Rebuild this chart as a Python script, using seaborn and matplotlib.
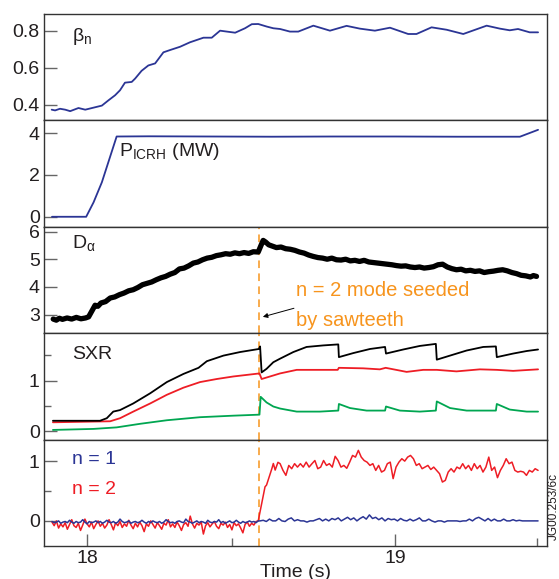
import numpy as np
import seaborn as sns
from matplotlib import pyplot as plt
from matplotlib.ticker import FixedLocator

sns.set_theme(style='white')
plt.rcParams['font.family'] = ['Liberation Sans', 'DejaVu Sans']
plt.rcParams['mathtext.fontset'] = 'custom'
plt.rcParams['mathtext.rm'] = 'Liberation Sans'

# ---- data ----
beta_t = [17.885, 17.896, 17.912, 17.929, 17.945, 17.972, 17.994, 18.021, 18.048, 18.069,
          18.091, 18.107, 18.123, 18.145, 18.156, 18.177, 18.199, 18.221, 18.248, 18.269,
          18.302, 18.334, 18.378, 18.405, 18.432, 18.454, 18.481, 18.513, 18.535, 18.556,
          18.584, 18.605, 18.627, 18.659, 18.686, 18.735, 18.789, 18.843, 18.886, 18.935,
          18.984, 19.043, 19.070, 19.119, 19.168, 19.222, 19.298, 19.341, 19.373, 19.400,
          19.438, 19.465]
beta_n = [0.373, 0.369, 0.378, 0.373, 0.365, 0.382, 0.373, 0.384, 0.395, 0.423,
          0.451, 0.478, 0.519, 0.523, 0.541, 0.583, 0.612, 0.623, 0.683, 0.695,
          0.713, 0.737, 0.762, 0.762, 0.800, 0.795, 0.789, 0.813, 0.835, 0.836,
          0.822, 0.813, 0.809, 0.795, 0.795, 0.827, 0.800, 0.826, 0.811, 0.800,
          0.816, 0.782, 0.782, 0.818, 0.805, 0.782, 0.827, 0.811, 0.802, 0.809,
          0.791, 0.791]

icrh_t = [17.886, 17.997, 18.021, 18.048, 18.096, 18.2, 18.4, 18.6, 18.8, 19.0, 19.2, 19.406, 19.465]
icrh_p = [0.0, 0.0, 0.69, 1.65, 3.84, 3.85, 3.84, 3.83, 3.84, 3.84, 3.83, 3.83, 4.16]

dalpha_t = [17.890, 17.900, 17.910, 17.920, 17.935, 17.950, 17.965, 17.980, 17.995, 18.005,
            18.015, 18.026, 18.035, 18.045, 18.060, 18.075, 18.090, 18.105, 18.120, 18.135,
            18.150, 18.165, 18.180, 18.195, 18.210, 18.225, 18.240, 18.255, 18.270, 18.285,
            18.300, 18.315, 18.330, 18.345, 18.360, 18.375, 18.390, 18.405, 18.420, 18.435,
            18.450, 18.465, 18.480, 18.495, 18.510, 18.525, 18.540, 18.556, 18.565, 18.572,
            18.580, 18.590, 18.600, 18.615, 18.630, 18.645, 18.660, 18.675, 18.690, 18.705,
            18.720, 18.735, 18.750, 18.765, 18.780, 18.795, 18.810, 18.825, 18.840, 18.855,
            18.870, 18.885, 18.900, 18.915, 18.930, 18.945, 18.960, 18.975, 18.990, 19.005,
            19.020, 19.035, 19.050, 19.065, 19.080, 19.095, 19.110, 19.125, 19.140, 19.155,
            19.170, 19.185, 19.200, 19.215, 19.230, 19.245, 19.260, 19.275, 19.290, 19.305,
            19.320, 19.335, 19.350, 19.365, 19.380, 19.395, 19.410, 19.425, 19.440, 19.450,
            19.460]
dalpha = [2.84, 2.80, 2.87, 2.83, 2.88, 2.84, 2.90, 2.85, 2.88, 2.92,
          3.12, 3.34, 3.30, 3.42, 3.47, 3.60, 3.64, 3.72, 3.78, 3.86,
          3.90, 3.98, 4.08, 4.13, 4.18, 4.26, 4.33, 4.38, 4.46, 4.52,
          4.65, 4.68, 4.76, 4.86, 4.90, 4.98, 5.04, 5.07, 5.13, 5.16,
          5.20, 5.18, 5.23, 5.20, 5.24, 5.21, 5.27, 5.26, 5.50, 5.68,
          5.62, 5.52, 5.48, 5.42, 5.44, 5.38, 5.36, 5.32, 5.26, 5.22,
          5.15, 5.10, 5.06, 5.04, 5.00, 5.04, 4.98, 4.97, 5.00, 4.94,
          4.96, 4.92, 4.96, 4.90, 4.88, 4.86, 4.84, 4.82, 4.80, 4.77,
          4.75, 4.76, 4.72, 4.70, 4.72, 4.68, 4.70, 4.73, 4.80, 4.82,
          4.72, 4.66, 4.62, 4.64, 4.58, 4.60, 4.56, 4.58, 4.52, 4.55,
          4.57, 4.60, 4.62, 4.58, 4.52, 4.48, 4.42, 4.40, 4.36, 4.41,
          4.38]

sxr_black_t = [17.889, 18.042, 18.064, 18.085, 18.107, 18.150, 18.205, 18.259, 18.313, 18.362,
               18.389, 18.443, 18.497, 18.558, 18.562, 18.567, 18.583, 18.605, 18.627, 18.670,
               18.713, 18.767, 18.816, 18.818, 18.865, 18.919, 18.968, 18.971, 19.027, 19.081,
               19.133, 19.136, 19.179, 19.233, 19.287, 19.328, 19.331, 19.384, 19.428, 19.465]
sxr_black = [0.21, 0.21, 0.26, 0.39, 0.42, 0.55, 0.75, 0.97, 1.13, 1.25,
             1.38, 1.49, 1.56, 1.62, 1.67, 1.16, 1.23, 1.36, 1.43, 1.56,
             1.66, 1.69, 1.71, 1.46, 1.54, 1.62, 1.66, 1.53, 1.61, 1.68,
             1.72, 1.41, 1.49, 1.59, 1.66, 1.67, 1.46, 1.53, 1.58, 1.61]

sxr_red_t = [17.889, 18.075, 18.107, 18.150, 18.205, 18.259, 18.313, 18.367, 18.421, 18.475,
             18.560, 18.567, 18.627, 18.681, 18.735, 18.814, 18.818, 18.897, 18.951, 18.970,
             19.038, 19.092, 19.136, 19.200, 19.276, 19.331, 19.384, 19.438, 19.465]
sxr_red = [0.18, 0.20, 0.26, 0.39, 0.55, 0.72, 0.86, 0.97, 1.03, 1.08,
           1.14, 1.03, 1.14, 1.21, 1.21, 1.21, 1.25, 1.24, 1.22, 1.25,
           1.17, 1.21, 1.21, 1.18, 1.22, 1.21, 1.19, 1.21, 1.22]

sxr_green_t = [17.889, 18.021, 18.096, 18.172, 18.259, 18.367, 18.475, 18.560, 18.564, 18.583,
               18.605, 18.627, 18.681, 18.756, 18.816, 18.818, 18.854, 18.908, 18.968, 18.971,
               19.016, 19.081, 19.133, 19.136, 19.179, 19.233, 19.328, 19.331, 19.373, 19.428,
               19.465]
sxr_green = [0.03, 0.05, 0.08, 0.15, 0.22, 0.28, 0.31, 0.33, 0.68, 0.57,
             0.49, 0.45, 0.39, 0.39, 0.41, 0.54, 0.46, 0.41, 0.41, 0.49,
             0.41, 0.39, 0.41, 0.59, 0.46, 0.41, 0.41, 0.54, 0.43, 0.39,
             0.39]

n1_before = [-0.01, -0.03, -0.02, 0.00, -0.04, -0.02, -0.01, -0.03, 0.01, -0.02,
             -0.04, -0.01, -0.03, -0.02, 0.02, -0.02, -0.05, -0.01, -0.03, -0.02,
             0.00, -0.03, -0.01, -0.04, -0.02, 0.01, -0.02, -0.03, -0.01, -0.04,
             -0.02, 0.03, -0.01, -0.03, -0.02, 0.00, -0.04, -0.02, -0.01, -0.03,
             -0.02, 0.01, -0.02, -0.04, -0.01, -0.03, 0.00, -0.02, -0.03, -0.01,
             -0.04, -0.02, 0.02, -0.01, -0.03, -0.02, -0.04, -0.01, 0.00, -0.02,
             -0.03, 0.03, -0.01, -0.02, -0.04, -0.02, 0.00, -0.03, -0.01, -0.02,
             -0.04, 0.01, -0.02, -0.03, -0.01, -0.02, 0.02, -0.03, -0.01, -0.04,
             -0.02, 0.00, -0.03, -0.02, 0.01, -0.02, -0.04, -0.01, -0.03, -0.02,
             0.00, -0.02, -0.01, -0.03, 0.00]
n1_after = [0.0, 0.01, -0.01, 0.03, 0.0, 0.0, 0.04, 0.0, -0.01, 0.03,
            0.05, 0.0, 0.02, 0.0, 0.0, -0.02, 0.0, 0.0, 0.02, 0.04,
            0.0, 0.03, 0.0, 0.04, 0.02, 0.05, 0.0, 0.03, 0.06, 0.02,
            0.05, 0.0, 0.04, 0.07, 0.03, 0.10, 0.04, 0.06, 0.02, 0.05,
            0.0, 0.04, 0.02, 0.03, 0.0, 0.04, 0.01, 0.0, 0.03, 0.0,
            0.02, 0.05, 0.0, 0.0, 0.03, 0.0, -0.02, 0.0, 0.0, -0.02,
            0.0, 0.0, 0.0, 0.0, -0.01, 0.0, 0.0, 0.03, 0.0, 0.04,
            0.06, 0.03, 0.0, 0.04, 0.0, 0.03, 0.0, 0.0, 0.03, 0.0,
            0.0, 0.02, 0.0, 0.01, 0.0, 0.0, 0.0, 0.0, 0.0, 0.0]

n2_before = [-0.02, -0.08, 0.00, -0.12, -0.05, -0.10, -0.03, -0.14, -0.06, 0.02,
             -0.08, -0.11, -0.04, -0.16, -0.07, 0.03, -0.05, -0.10, -0.02, -0.13,
             -0.06, 0.00, -0.09, -0.04, -0.12, -0.07, 0.02, -0.06, -0.15, -0.03,
             -0.08, -0.01, -0.11, -0.05, -0.09, 0.01, -0.07, -0.13, -0.04, -0.10,
             -0.02, -0.08, -0.18, -0.05, -0.09, 0.00, -0.06, -0.12, -0.03, -0.08,
             -0.14, -0.04, -0.07, 0.02, -0.10, -0.05, -0.11, -0.02, -0.08, -0.16,
             -0.06, -0.03, -0.09, 0.08, -0.05, -0.12, -0.04, -0.07, -0.02, -0.22,
             -0.08, -0.03, -0.10, -0.05, -0.01, -0.09, -0.13, -0.04, -0.07, -0.02,
             -0.11, -0.06, -0.15, -0.03, -0.08, -0.05, -0.12, -0.20, -0.06, -0.02,
             -0.09, -0.04, -0.07, -0.01, 0.00]
n2_rise_t = [18.578, 18.583, 18.600, 18.605, 18.611, 18.620]
n2_rise = [0.57, 0.60, 0.87, 0.96, 0.85, 0.98]
n2_after = [0.957, 0.845, 0.762, 0.928, 0.873, 0.957, 0.90, 0.957, 0.90, 0.983,
            0.90, 0.957, 1.01, 0.873, 0.90, 1.01, 0.928, 0.957, 0.90, 1.08,
            1.01, 0.90, 0.928, 0.88, 0.983, 1.095, 1.067, 1.18, 1.067, 1.01,
            0.983, 0.928, 0.957, 0.845, 0.928, 0.817, 0.845, 0.957, 0.983, 0.707,
            0.90, 0.983, 1.04, 1.0, 1.067, 1.095, 1.04, 0.928, 0.957, 0.873,
            0.90, 0.928, 0.86, 0.90, 0.845, 0.79, 0.65, 0.678, 0.817, 0.873,
            0.817, 0.90, 0.873, 0.957, 0.873, 0.928, 0.845, 0.957, 0.873, 0.928,
            0.817, 0.90, 1.067, 0.845, 0.90, 0.723, 0.845, 0.928, 1.04, 0.957,
            0.983, 0.845, 0.817, 0.83, 0.817, 0.762, 0.845, 0.817, 0.873, 0.845]

t_sawtooth = 18.558

BLUE = '#2b3595'
RED = '#ee1d25'
GREEN = '#00a651'
ORANGE = '#f7941d'
TXT = '#231f20'

fig, axes = plt.subplots(5, 1, figsize=(5.59, 5.79), dpi=100, sharex=True,
                         gridspec_kw=dict(hspace=0))
fig.subplots_adjust(left=0.0787, right=0.9785, top=0.9758, bottom=0.057)

ax1, ax2, ax3, ax4, ax5 = axes

def line(ax, x, y, color, lw=1.3):
    sns.lineplot(x=x, y=y, ax=ax, color=color, lw=lw, estimator=None, sort=False, legend=False)

line(ax1, beta_t, beta_n, BLUE)
line(ax2, icrh_t, icrh_p, BLUE)
line(ax3, dalpha_t, dalpha, 'black', lw=3.8)
line(ax4, sxr_green_t, sxr_green, GREEN)
line(ax4, sxr_red_t, sxr_red, RED)
line(ax4, sxr_black_t, sxr_black, 'black')

tb = np.linspace(17.886, 18.556, len(n2_before))
ta = np.linspace(18.627, 19.465, len(n2_after))
n2_t = list(tb) + n2_rise_t + list(ta)
n2 = n2_before + n2_rise + n2_after
line(ax5, n2_t, n2, RED, lw=1.1)
n1_t = list(np.linspace(17.886, 18.556, len(n1_before))) + list(np.linspace(18.562, 19.465, len(n1_after)))
line(ax5, n1_t, n1_before + n1_after, BLUE, lw=1.1)

# limits and ticks
ax5.set_xlim(17.86, 19.494)
ax1.set_ylim(0.315, 0.89)
ax2.set_ylim(-0.48, 4.61)
ax3.set_ylim(2.33, 6.17)
ax4.set_ylim(-0.16, 1.93)
ax5.set_ylim(-0.42, 1.36)

ax1.set_yticks([0.4, 0.6, 0.8], ['0.4', '0.6', '0.8'])
ax2.set_yticks([0, 2, 4], ['0', '2', '4'])
ax3.set_yticks([3, 4, 5, 6], ['3', '4', '5', '6'])
ax4.set_yticks([0, 1], ['0', '1'])
ax4.yaxis.set_minor_locator(FixedLocator([0.5, 1.5]))
ax5.set_yticks([0, 1], ['0', '1'])
ax5.yaxis.set_minor_locator(FixedLocator([0.5]))
ax5.set_xticks([18, 19], ['18', '19'])
ax5.xaxis.set_minor_locator(FixedLocator([18.47, 19.46]))

for ax in axes:
    for s in ax.spines.values():
        s.set_color('#333333')
        s.set_linewidth(1.0)
    ax.tick_params(axis='y', which='major', direction='in', length=9, width=1.0,
                   color='#666666', labelsize=14, labelcolor=TXT, pad=3, left=True)
    ax.tick_params(axis='y', which='minor', direction='in', length=5, width=1.0,
                   color='#666666', left=True)
    ax.tick_params(axis='x', which='both', bottom=False, labelbottom=False)
    ax.set_ylabel('')
    ax.set_xlabel('')

ax5.tick_params(axis='x', which='major', bottom=True, labelbottom=True, direction='in',
                length=9, width=1.0, color='#666666', labelsize=14, labelcolor=TXT, pad=3)
ax5.tick_params(axis='x', which='minor', bottom=True, direction='in', length=6, width=1.0,
                color='#666666')
ax5.set_xlabel('Time (s)', fontsize=14, color=TXT, labelpad=-2)

# dashed marker for the sawtooth crash
for ax in (ax3, ax4, ax5):
    ax.axvline(t_sawtooth, color=ORANGE, lw=1.1, ls=(0, (5, 3.5)), zorder=0.5)

# panel labels
ax1.text(17.951, 0.77, 'β$_\\mathregular{n}$', fontsize=14, color=TXT, va='center')
ax2.text(18.104, 3.1, 'P$_\\mathregular{ICRH}$ (MW)', fontsize=14, color=TXT, va='center')
ax3.text(17.951, 5.56, 'D$_\\mathregular{α}$', fontsize=14, color=TXT, va='center')
ax4.text(17.951, 1.51, 'SXR', fontsize=14, color=TXT, va='center')
ax5.text(17.951, 1.03, 'n = 1', fontsize=14, color=BLUE, va='center')
ax5.text(17.951, 0.53, 'n = 2', fontsize=14, color=RED, va='center')

ax3.text(18.679, 3.87, 'n = 2 mode seeded', fontsize=14.5, color=ORANGE, va='center')
ax3.text(18.679, 2.80, 'by sawteeth', fontsize=14.5, color=ORANGE, va='center')
ax3.annotate('', xy=(18.571, 2.92), xytext=(18.672, 3.23),
             arrowprops=dict(arrowstyle='-|>', color='black', lw=0.7,
                             mutation_scale=7, shrinkA=0, shrinkB=0))

fig.text(0.991, 1 - 507 / 579, 'JG00.253/6c', rotation=90, fontsize=8.5,
         color=TXT, ha='center', va='center')

plt.savefig('out.png', dpi=100)
